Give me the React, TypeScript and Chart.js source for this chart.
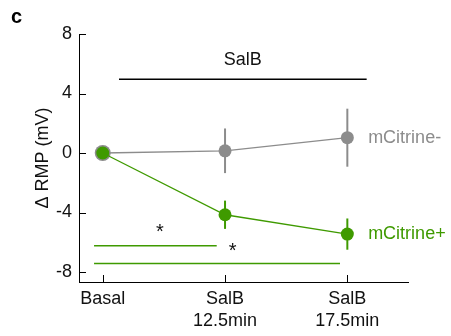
import React, { useEffect, useRef } from 'react';
import { Chart, registerables } from 'chart.js';

Chart.register(...registerables);

// ---- data ----
const X_POS = [0, 1, 2];
const X_LABELS = [['Basal'], ['SalB', '12.5min'], ['SalB', '17.5min']];
const GRAY_MEAN = [0, 0.15, 1.03];
const GRAY_ERR = [0, 1.5, 1.95];
const GREEN_MEAN = [0, -4.15, -5.45];
const GREEN_ERR = [0, 0.95, 1.05];
const Y_TICKS = [-8, -4, 0, 4, 8];
const SERIES_NAMES = ['mCitrine-', 'mCitrine+'];
const TREATMENT_LABEL = 'SalB';
const TREATMENT_SPAN = [0.133, 2.158];
const TREATMENT_Y = 4.95;
const TREATMENT_TEXT_Y = 6.25;
const SIG_SPANS = [[-0.071, 0.932], [-0.071, 1.94]];
const SIG_Y = [-6.23, -7.42];
const STAR_X = [0.468, 1.063];
const STAR_Y = [-4.95, -6.23];
const SERIES_LABEL_X = 2.17;

const GRAY = '#8c8c8c';
const GREEN = '#3f9a00';
const FONT = 'Liberation Sans, Arial, Helvetica, sans-serif';

const annotPlugin = {
  id: 'annot',
  beforeDatasetsDraw(chart: any) {
    const { ctx } = chart;
    const xs = chart.scales.x;
    const ys = chart.scales.y;
    const sets = [
      { mean: GRAY_MEAN, err: GRAY_ERR, color: GRAY },
      { mean: GREEN_MEAN, err: GREEN_ERR, color: GREEN },
    ];
    ctx.save();
    ctx.lineWidth = 2;
    sets.forEach((s) => {
      ctx.strokeStyle = s.color;
      s.mean.forEach((m, i) => {
        if (!s.err[i]) return;
        const px = xs.getPixelForValue(X_POS[i]);
        ctx.beginPath();
        ctx.moveTo(px, ys.getPixelForValue(m + s.err[i]));
        ctx.lineTo(px, ys.getPixelForValue(m - s.err[i]));
        ctx.stroke();
      });
    });
    ctx.restore();
  },
  afterDraw(chart: any) {
    const { ctx, chartArea } = chart;
    const xs = chart.scales.x;
    const ys = chart.scales.y;
    ctx.save();
    // inward ticks
    ctx.strokeStyle = '#000';
    ctx.lineWidth = 1;
    Y_TICKS.forEach((v) => {
      const py = Math.round(ys.getPixelForValue(v)) + 0.5;
      ctx.beginPath();
      ctx.moveTo(chartArea.left, py);
      ctx.lineTo(chartArea.left + 7, py);
      ctx.stroke();
    });
    X_POS.forEach((v) => {
      const px = Math.round(xs.getPixelForValue(v)) + 0.5;
      ctx.beginPath();
      ctx.moveTo(px, chartArea.bottom);
      ctx.lineTo(px, chartArea.bottom - 7);
      ctx.stroke();
    });
    // treatment bar
    ctx.strokeStyle = '#000';
    ctx.lineWidth = 1.5;
    ctx.beginPath();
    const ty = ys.getPixelForValue(TREATMENT_Y);
    ctx.moveTo(xs.getPixelForValue(TREATMENT_SPAN[0]), ty);
    ctx.lineTo(xs.getPixelForValue(TREATMENT_SPAN[1]), ty);
    ctx.stroke();
    ctx.fillStyle = '#111';
    ctx.font = `18px ${FONT}`;
    ctx.textAlign = 'center';
    ctx.textBaseline = 'middle';
    ctx.fillText(
      TREATMENT_LABEL,
      xs.getPixelForValue((TREATMENT_SPAN[0] + TREATMENT_SPAN[1]) / 2),
      ys.getPixelForValue(TREATMENT_TEXT_Y)
    );
    // significance bars
    ctx.strokeStyle = GREEN;
    ctx.lineWidth = 1.5;
    SIG_SPANS.forEach((sp, i) => {
      const py = ys.getPixelForValue(SIG_Y[i]);
      ctx.beginPath();
      ctx.moveTo(xs.getPixelForValue(sp[0]), py);
      ctx.lineTo(xs.getPixelForValue(sp[1]), py);
      ctx.stroke();
    });
    ctx.fillStyle = '#111';
    ctx.font = `20px ${FONT}`;
    ctx.textBaseline = 'alphabetic';
    STAR_X.forEach((sx, i) => {
      ctx.fillText('*', xs.getPixelForValue(sx), ys.getPixelForValue(STAR_Y[i]) + 11);
    });
    // series labels
    ctx.font = `18px ${FONT}`;
    ctx.textAlign = 'left';
    ctx.textBaseline = 'middle';
    ctx.fillStyle = GRAY;
    ctx.fillText(SERIES_NAMES[0], xs.getPixelForValue(SERIES_LABEL_X), ys.getPixelForValue(GRAY_MEAN[2]));
    ctx.fillStyle = GREEN;
    ctx.fillText(SERIES_NAMES[1], xs.getPixelForValue(SERIES_LABEL_X), ys.getPixelForValue(GREEN_MEAN[2]));
    // panel label
    ctx.fillStyle = '#000';
    ctx.font = `bold 20px ${FONT}`;
    ctx.textBaseline = 'alphabetic';
    ctx.fillText('c', 11, 23);
    ctx.restore();
  },
};

export default function App() {
  const ref = useRef<HTMLCanvasElement>(null);
  useEffect(() => {
    document.body.style.margin = '0';
    const canvas = ref.current;
    if (!canvas) return;
    const tickFont = { family: FONT, size: 18, lineHeight: 1.22 };
    const chart = new Chart(canvas, {
      type: 'line',
      data: {
        datasets: [
          {
            label: SERIES_NAMES[1],
            data: X_POS.map((x, i) => ({ x, y: GREEN_MEAN[i] })),
            borderColor: GREEN,
            backgroundColor: GREEN,
            borderWidth: 1.3,
            pointRadius: 6.5,
            pointBorderWidth: 0,
            pointBackgroundColor: GREEN,
          },
          {
            label: SERIES_NAMES[0],
            data: X_POS.map((x, i) => ({ x, y: GRAY_MEAN[i] })),
            borderColor: GRAY,
            backgroundColor: GRAY,
            borderWidth: 1.3,
            pointRadius: [8, 6.5, 6.5],
            pointBorderWidth: 0,
            pointBackgroundColor: GRAY,
          },
        ],
      },
      options: {
        animation: false,
        responsive: false,
        layout: { padding: { left: 0, top: 34, right: 43, bottom: 0 } },
        plugins: { legend: { display: false }, tooltip: { enabled: false } },
        scales: {
          x: {
            type: 'linear',
            min: -0.194,
            max: 2.496,
            grid: { display: false, drawTicks: false },
            border: { display: true, color: '#000', width: 1 },
            afterBuildTicks: (s: any) => {
              s.ticks = X_POS.map((v) => ({ value: v }));
            },
            afterFit: (s: any) => {
              s.height = 54;
            },
            ticks: {
              padding: 6,
              font: tickFont,
              color: '#111',
              maxRotation: 0,
              autoSkip: false,
              callback: (v: any) => {
                const i = X_POS.indexOf(Number(v));
                return i >= 0 ? X_LABELS[i] : '';
              },
            },
          },
          y: {
            type: 'linear',
            min: -8.67,
            max: 8,
            grid: { display: false, drawTicks: false },
            border: { display: true, color: '#000', width: 1 },
            afterBuildTicks: (s: any) => {
              s.ticks = Y_TICKS.map((v) => ({ value: v }));
            },
            afterFit: (s: any) => {
              s.width = 79;
            },
            ticks: { padding: 7, font: { family: FONT, size: 18 }, color: '#111' },
            title: {
              display: true,
              text: 'Δ RMP (mV)',
              font: { family: FONT, size: 18 },
              color: '#111',
              padding: { top: 32, bottom: 0 },
            },
          },
        },
      },
      plugins: [annotPlugin],
    });
    return () => chart.destroy();
  }, []);
  return <canvas ref={ref} width={451} height={336} style={{ display: 'block' }} />;
}
